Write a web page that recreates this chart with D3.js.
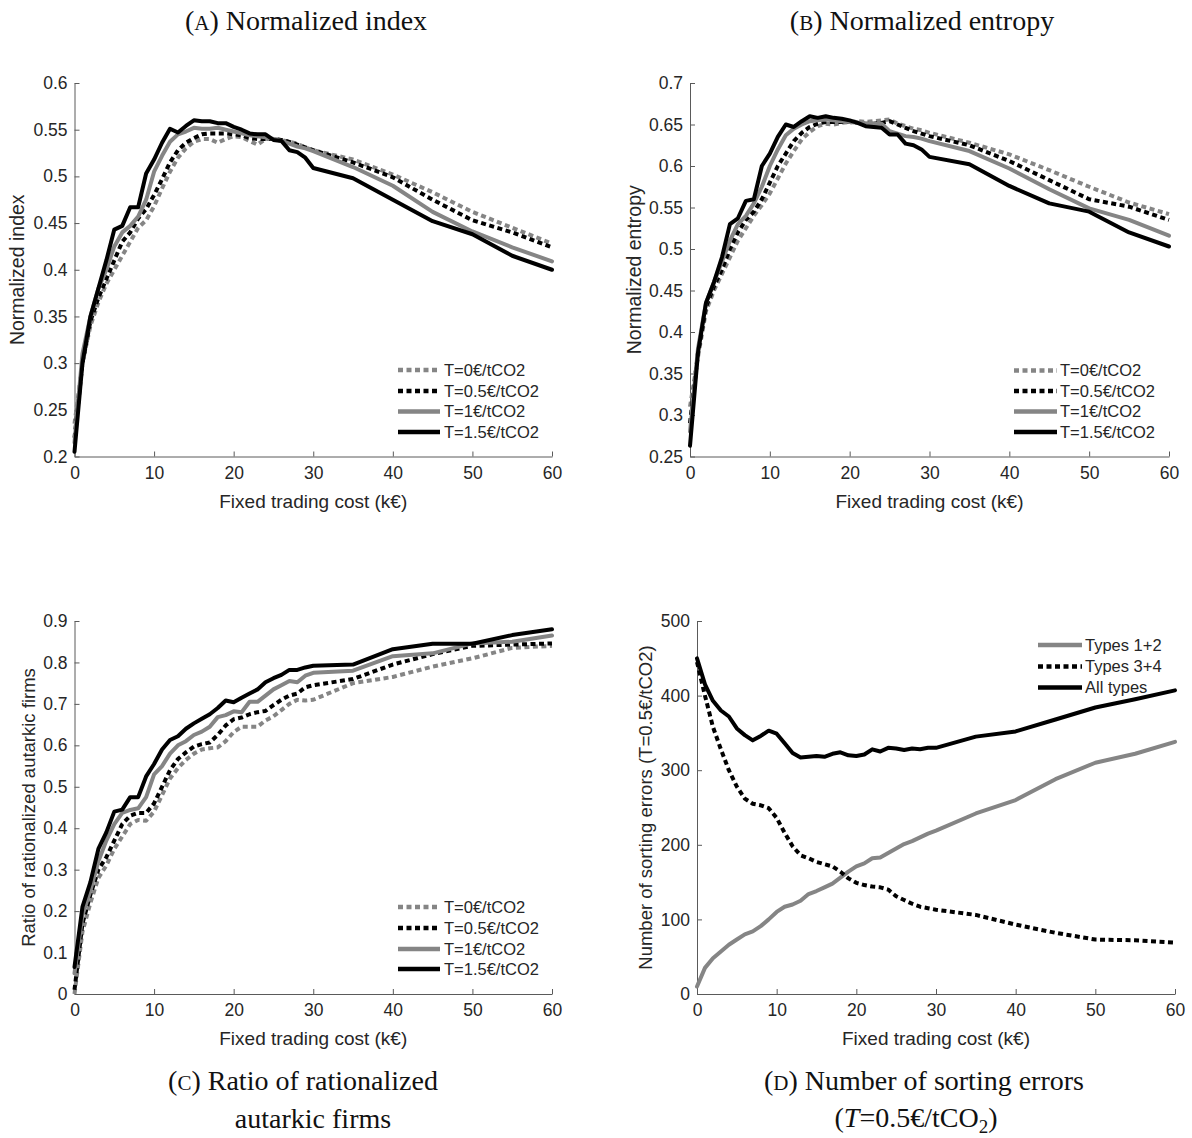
<!DOCTYPE html>
<html>
<head>
<meta charset="utf-8">
<script src="https://cdn.jsdelivr.net/npm/d3@7"></script>
<style>
  html, body { margin: 0; padding: 0; background: #fff; }
  svg { display: block; }
</style>
</head>
<body>
<svg id="chart" width="1192" height="1138"></svg>
<script>
// ---------- DATA ----------
const xCost = [0,1,2,3,4,5,6,7,8,9,10,11,12,13,14,15,16,17,18,19,20,21,22,23,24,25,26,27,28,29,30,35,40,45,50,55,60];
const xTicks = [0,10,20,30,40,50,60];

const taxLabels = ["T=0€/tCO2","T=0.5€/tCO2","T=1€/tCO2","T=1.5€/tCO2"];

// (A) Normalized index
const idxT0  = [0.235,0.300,0.340,0.365,0.385,0.400,0.415,0.430,0.445,0.453,0.468,0.487,0.505,0.520,0.530,0.537,0.540,0.540,0.536,0.540,0.543,0.542,0.538,0.534,0.540,0.540,0.539,0.537,0.535,0.531,0.528,0.518,0.502,0.483,0.462,0.445,0.428];
const idxT05 = [0.220,0.300,0.345,0.370,0.390,0.410,0.430,0.440,0.455,0.465,0.480,0.497,0.515,0.528,0.536,0.541,0.545,0.546,0.546,0.546,0.545,0.544,0.541,0.540,0.540,0.540,0.539,0.537,0.534,0.531,0.528,0.515,0.499,0.475,0.453,0.440,0.424];
const idxT1  = [0.215,0.310,0.350,0.380,0.400,0.425,0.440,0.447,0.457,0.475,0.505,0.522,0.537,0.545,0.548,0.552,0.551,0.551,0.552,0.550,0.548,0.546,0.544,0.543,0.542,0.540,0.538,0.535,0.532,0.530,0.527,0.510,0.490,0.462,0.441,0.424,0.409];
const idxT15 = [0.205,0.300,0.350,0.380,0.410,0.443,0.447,0.467,0.467,0.503,0.518,0.536,0.551,0.547,0.554,0.560,0.559,0.559,0.557,0.557,0.553,0.550,0.546,0.545,0.545,0.539,0.538,0.528,0.526,0.520,0.509,0.498,0.475,0.452,0.438,0.415,0.400];
const idxTicks = [0.2,0.25,0.3,0.35,0.4,0.45,0.5,0.55,0.6];

// (B) Normalized entropy
const entT0  = [0.310,0.370,0.425,0.450,0.470,0.490,0.510,0.525,0.540,0.553,0.567,0.585,0.603,0.618,0.632,0.641,0.648,0.651,0.650,0.652,0.653,0.654,0.653,0.654,0.655,0.656,0.651,0.648,0.645,0.643,0.640,0.628,0.614,0.595,0.575,0.556,0.542];
const entT05 = [0.290,0.375,0.430,0.455,0.475,0.500,0.520,0.535,0.545,0.560,0.580,0.600,0.615,0.630,0.640,0.647,0.651,0.653,0.653,0.653,0.653,0.652,0.651,0.651,0.652,0.654,0.650,0.646,0.642,0.639,0.636,0.625,0.606,0.583,0.560,0.551,0.535];
const entT1  = [0.280,0.380,0.435,0.460,0.485,0.510,0.530,0.540,0.555,0.575,0.600,0.620,0.637,0.645,0.650,0.654,0.655,0.656,0.655,0.654,0.653,0.652,0.651,0.651,0.651,0.642,0.639,0.636,0.635,0.633,0.630,0.618,0.597,0.572,0.549,0.535,0.516];
const entT15 = [0.263,0.375,0.435,0.460,0.490,0.530,0.537,0.558,0.560,0.600,0.615,0.635,0.650,0.647,0.654,0.660,0.658,0.660,0.658,0.657,0.655,0.652,0.648,0.647,0.646,0.638,0.638,0.627,0.625,0.620,0.611,0.602,0.576,0.555,0.545,0.520,0.503];
const entTicks = [0.25,0.3,0.35,0.4,0.45,0.5,0.55,0.6,0.65,0.7];

// (C) Ratio of rationalized autarkic firms
const ratT0  = [0.000,0.150,0.220,0.280,0.310,0.350,0.380,0.410,0.420,0.418,0.440,0.480,0.520,0.545,0.565,0.580,0.590,0.593,0.595,0.610,0.632,0.645,0.645,0.645,0.660,0.670,0.685,0.700,0.710,0.708,0.710,0.750,0.765,0.790,0.810,0.835,0.840];
const ratT05 = [0.010,0.170,0.240,0.300,0.330,0.370,0.410,0.430,0.437,0.437,0.460,0.500,0.540,0.567,0.583,0.597,0.603,0.607,0.625,0.648,0.663,0.667,0.675,0.680,0.683,0.697,0.710,0.720,0.725,0.740,0.745,0.760,0.795,0.820,0.840,0.843,0.846];
const ratT1  = [0.050,0.190,0.250,0.320,0.370,0.410,0.437,0.444,0.448,0.475,0.530,0.550,0.580,0.600,0.610,0.625,0.633,0.645,0.668,0.673,0.682,0.680,0.705,0.705,0.720,0.735,0.745,0.755,0.752,0.768,0.775,0.780,0.815,0.822,0.846,0.850,0.865];
const ratT15 = [0.065,0.210,0.270,0.350,0.390,0.440,0.445,0.475,0.475,0.525,0.555,0.590,0.613,0.622,0.640,0.653,0.664,0.675,0.690,0.708,0.704,0.715,0.725,0.735,0.752,0.762,0.770,0.782,0.782,0.788,0.792,0.795,0.832,0.845,0.845,0.866,0.880];
const ratTicks = [0,0.1,0.2,0.3,0.4,0.5,0.6,0.7,0.8,0.9];

// (D) Number of sorting errors (T=0.5€/tCO2)
const errLabels = ["Types 1+2","Types 3+4","All types"];
const err12  = [10,35,48,57,66,73,80,84,91,100,110,117,120,125,134,138,143,148,156,164,171,175,182,183,189,195,201,205,210,215,219,242,260,288,310,322,338];
const err34  = [445,400,358,328,300,278,262,255,253,249,236,216,198,186,182,177,174,171,164,155,149,146,144,143,140,131,126,121,117,115,113,106,93,82,73,72,69];
const errAll = [450,415,393,380,372,356,347,340,346,353,349,336,323,317,318,319,318,322,324,320,319,321,328,325,330,329,327,329,328,330,330,345,352,368,384,395,407];
const errTicks = [0,100,200,300,400,500];

// ---------- STYLE / LAYOUT ----------
const GRAY = "#858585", BLACK = "#000000";
const DOT = "5,3.5";
const taxStyles = [
  {color: GRAY,  dash: DOT},
  {color: BLACK, dash: DOT},
  {color: GRAY,  dash: null},
  {color: BLACK, dash: null}
];
const errStyles = [
  {color: GRAY,  dash: null},
  {color: BLACK, dash: DOT},
  {color: BLACK, dash: null}
];

const panels = [
  { x0: 74.5, x1: 552, yTop: 83, yBot: 456.5, ydom: [0.2, 0.6], yticks: idxTicks,
    ylabel: "Normalized index", ylabX: 24, ylabSize: 19.5,
    series: [idxT0, idxT05, idxT1, idxT15], labels: taxLabels, styles: taxStyles,
    leg: {lx0: 398, lx1: 440, tx: 444, ys: [370, 391, 411.5, 432]} },
  { x0: 690, x1: 1169, yTop: 83, yBot: 456.5, ydom: [0.25, 0.7], yticks: entTicks,
    ylabel: "Normalized entropy", ylabX: 641, ylabSize: 19.5,
    series: [entT0, entT05, entT1, entT15], labels: taxLabels, styles: taxStyles,
    leg: {lx0: 1014, lx1: 1057, tx: 1060, ys: [370.5, 391, 411.5, 432]} },
  { x0: 74.5, x1: 552, yTop: 621, yBot: 994, ydom: [0, 0.9], yticks: ratTicks,
    ylabel: "Ratio of rationalized autarkic firms", ylabX: 35, ylabSize: 18.5,
    series: [ratT0, ratT05, ratT1, ratT15], labels: taxLabels, styles: taxStyles,
    leg: {lx0: 398, lx1: 440, tx: 444, ys: [907, 928, 949, 969]} },
  { x0: 697, x1: 1175, yTop: 621, yBot: 994, ydom: [0, 500], yticks: errTicks,
    ylabel: "Number of sorting errors (T=0.5€/tCO2)", ylabX: 652, ylabSize: 18.5,
    series: [err12, err34, errAll], labels: errLabels, styles: errStyles,
    leg: {lx0: 1038, lx1: 1082, tx: 1085, ys: [645, 666.5, 687.5]} }
];

const svg = d3.select("#chart");
const SANS = "'Liberation Sans', Arial, Helvetica, sans-serif";
const SERIF = "'Liberation Serif', 'Times New Roman', serif";
const TXT = "#262626";
const AXC = "#5a5a5a";

panels.forEach(p => {
  const x = d3.scaleLinear().domain([0, 60]).range([p.x0, p.x1]);
  const y = d3.scaleLinear().domain(p.ydom).range([p.yBot, p.yTop]);

  // axes
  const gx = svg.append("g").attr("transform", `translate(0,${p.yBot})`)
    .call(d3.axisBottom(x).tickValues(xTicks).tickSize(-5).tickSizeOuter(0).tickPadding(10).tickFormat(d => String(d)));
  const gy = svg.append("g").attr("transform", `translate(${p.x0},0)`)
    .call(d3.axisLeft(y).tickValues(p.yticks).tickSize(-5).tickSizeOuter(0).tickPadding(7).tickFormat(d => String(d)));
  [gx, gy].forEach(g => {
    g.select(".domain").attr("stroke", AXC).attr("stroke-width", 1);
    g.selectAll(".tick line").attr("stroke", AXC).attr("stroke-width", 1);
    g.selectAll(".tick text").attr("fill", TXT).attr("font-family", SANS).attr("font-size", 17.5);
  });
  gx.selectAll(".tick text").attr("dy", "0.71em");

  // axis titles
  svg.append("text")
    .attr("x", (p.x0 + p.x1) / 2).attr("y", p.yBot + 51)
    .attr("text-anchor", "middle").attr("font-family", SANS).attr("font-size", 19).attr("fill", TXT)
    .text("Fixed trading cost (k€)");
  svg.append("text")
    .attr("transform", `translate(${p.ylabX},${(p.yTop + p.yBot) / 2}) rotate(-90)`)
    .attr("text-anchor", "middle").attr("font-family", SANS).attr("font-size", p.ylabSize).attr("fill", TXT)
    .text(p.ylabel);

  // lines
  const line = d3.line().x((d, i) => x(xCost[i])).y(d => y(d));
  p.series.forEach((s, k) => {
    const st = p.styles[k];
    svg.append("path").datum(s)
      .attr("d", line)
      .attr("fill", "none")
      .attr("stroke", st.color)
      .attr("stroke-width", 4)
      .attr("stroke-linejoin", "round")
      .attr("stroke-linecap", st.dash ? "butt" : "round")
      .attr("stroke-dasharray", st.dash);
  });

  // legend
  p.labels.forEach((lab, k) => {
    const st = p.styles[k];
    const yy = p.leg.ys[k];
    svg.append("line")
      .attr("x1", p.leg.lx0).attr("x2", p.leg.lx1).attr("y1", yy).attr("y2", yy)
      .attr("stroke", st.color).attr("stroke-width", 4.5)
      .attr("stroke-dasharray", st.dash);
    svg.append("text")
      .attr("x", p.leg.tx).attr("y", yy).attr("dy", "0.36em")
      .attr("font-family", SANS).attr("font-size", 16.5).attr("fill", TXT)
      .text(lab);
  });
});

// ---------- SUBFIGURE CAPTIONS ----------
function caption(cx, cy, letter, rest) {
  const t = svg.append("text").attr("x", cx).attr("y", cy)
    .attr("text-anchor", "middle").attr("font-family", SERIF).attr("font-size", 28).attr("fill", "#111");
  t.append("tspan").text("(");
  t.append("tspan").attr("font-size", 21).text(letter);
  t.append("tspan").text(") " + rest);
  return t;
}
function plain(cx, cy, str) {
  return svg.append("text").attr("x", cx).attr("y", cy)
    .attr("text-anchor", "middle").attr("font-family", SERIF).attr("font-size", 28).attr("fill", "#111")
    .text(str);
}
caption(306, 30, "A", "Normalized index");
caption(922, 30, "B", "Normalized entropy");
caption(303, 1090, "C", "Ratio of rationalized");
plain(313, 1128, "autarkic firms");
caption(924, 1090, "D", "Number of sorting errors");
const t2 = svg.append("text").attr("x", 916).attr("y", 1127)
  .attr("text-anchor", "middle").attr("font-family", SERIF).attr("font-size", 28).attr("fill", "#111");
t2.append("tspan").text("(");
t2.append("tspan").attr("font-style", "italic").text("T");
t2.append("tspan").text("=0.5€/tCO");
t2.append("tspan").attr("font-size", 19).attr("dy", 6).text("2");
t2.append("tspan").attr("dy", -6).text(")");
</script>
</body>
</html>
